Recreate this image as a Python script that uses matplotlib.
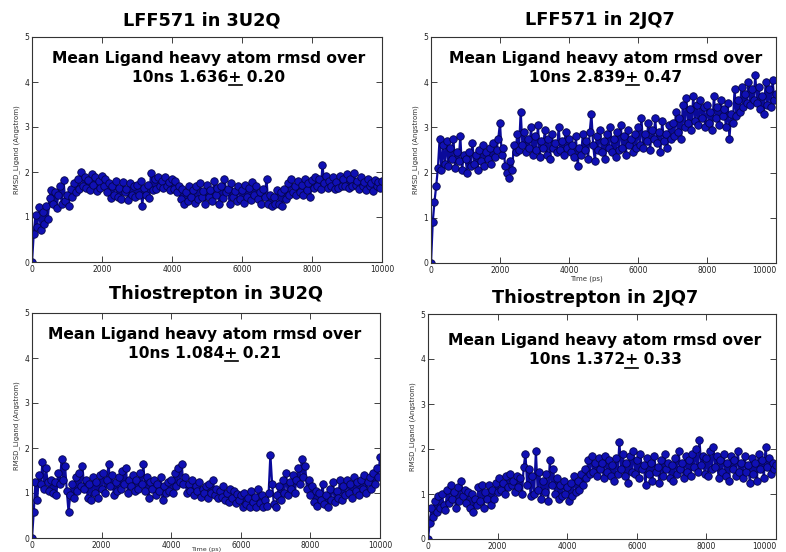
import numpy as np
import matplotlib
matplotlib.use("Agg")
import matplotlib.pyplot as plt
from matplotlib.lines import Line2D

plt.rcParams['font.family'] = ['DejaVu Sans']

time_ps = np.arange(0, 10001, 50)

rmsd_lff_3u2q = [
    0.00, 0.63, 1.05, 0.78, 1.22, 0.72, 1.12, 0.85, 1.25, 0.95, 1.42, 1.60, 1.28, 1.55, 1.20, 1.48, 1.68, 1.30, 1.82, 1.35,
    1.50, 1.25, 1.62, 1.45, 1.75, 1.55, 1.85, 1.62, 2.00, 1.70, 1.90, 1.65, 1.82, 1.60, 1.95, 1.72, 1.88, 1.58, 1.80, 1.65,
    1.92, 1.70, 1.85, 1.55, 1.75, 1.42, 1.70, 1.50, 1.80, 1.45, 1.65, 1.40, 1.78, 1.55, 1.62, 1.38, 1.75, 1.50, 1.68, 1.45,
    1.72, 1.48, 1.80, 1.25, 1.65, 1.50, 1.72, 1.42, 1.97, 1.60, 1.85, 1.62, 1.90, 1.70, 1.80, 1.65, 1.88, 1.70, 1.78, 1.60,
    1.85, 1.62, 1.80, 1.55, 1.70, 1.40, 1.62, 1.30, 1.55, 1.35, 1.70, 1.45, 1.60, 1.32, 1.68, 1.40, 1.75, 1.45, 1.58, 1.30,
    1.72, 1.45, 1.60, 1.35, 1.80, 1.50, 1.65, 1.30, 1.70, 1.42, 1.85, 1.55, 1.62, 1.28, 1.75, 1.45, 1.58, 1.35, 1.70, 1.40,
    1.60, 1.32, 1.72, 1.45, 1.65, 1.38, 1.78, 1.50, 1.68, 1.40, 1.55, 1.30, 1.62, 1.45, 1.85, 1.28, 1.50, 1.25, 1.45, 1.28,
    1.60, 1.30, 1.55, 1.25, 1.62, 1.40, 1.75, 1.50, 1.85, 1.55, 1.70, 1.48, 1.80, 1.55, 1.72, 1.50, 1.85, 1.60, 1.75, 1.45,
    1.82, 1.65, 1.90, 1.70, 1.85, 1.62, 2.15, 1.75, 1.92, 1.65, 1.80, 1.70, 1.88, 1.62, 1.78, 1.65, 1.92, 1.70, 1.85, 1.68,
    1.95, 1.65, 1.85, 1.70, 1.98, 1.72, 1.80, 1.62, 1.90, 1.68, 1.78, 1.60, 1.85, 1.70, 1.75, 1.58, 1.82, 1.68, 1.78, 1.65,
    1.80]

rmsd_lff_2jq7 = [
    0.00, 0.90, 1.35, 1.70, 2.10, 2.75, 2.05, 2.60, 2.20, 2.70, 2.15, 2.55, 2.30, 2.75, 2.10, 2.45, 2.25, 2.80, 2.05, 2.40,
    2.30, 2.00, 2.45, 2.15, 2.65, 2.20, 2.40, 2.05, 2.50, 2.25, 2.60, 2.15, 2.45, 2.30, 2.55, 2.20, 2.65, 2.35, 2.50, 2.75,
    3.10, 2.40, 2.55, 2.15, 2.00, 1.88, 2.25, 2.05, 2.60, 2.45, 2.85, 2.50, 3.35, 2.60, 2.90, 2.45, 2.75, 2.55, 3.00, 2.40,
    2.80, 2.50, 3.05, 2.35, 2.70, 2.55, 2.95, 2.40, 2.75, 2.30, 2.85, 2.55, 2.65, 2.45, 3.00, 2.50, 2.70, 2.40, 2.90, 2.55,
    2.75, 2.45, 2.60, 2.35, 2.80, 2.15, 2.55, 2.40, 2.85, 2.50, 2.70, 2.30, 2.90, 3.30, 2.60, 2.25, 2.80, 2.50, 2.95, 2.45,
    2.70, 2.30, 2.85, 2.55, 3.00, 2.45, 2.75, 2.35, 2.90, 2.50, 3.05, 2.55, 2.80, 2.40, 2.95, 2.60, 2.75, 2.45, 2.85, 2.55,
    3.00, 2.60, 3.20, 2.55, 2.85, 2.70, 3.10, 2.50, 2.95, 2.75, 3.20, 2.65, 2.90, 2.45, 3.15, 2.70, 2.85, 2.55, 3.05, 2.75,
    3.10, 2.80, 3.35, 2.90, 3.20, 2.75, 3.50, 3.00, 3.65, 3.10, 3.40, 2.95, 3.70, 3.15, 3.50, 3.05, 3.60, 3.20, 3.45, 3.00,
    3.50, 3.10, 3.35, 2.95, 3.70, 3.20, 3.45, 3.05, 3.60, 3.25, 3.40, 3.00, 3.55, 2.75, 3.30, 3.10, 3.85, 3.25, 3.60, 3.35,
    3.90, 3.45, 3.75, 3.55, 4.00, 3.50, 3.85, 3.60, 4.15, 3.55, 3.90, 3.40, 3.70, 3.30, 4.00, 3.50, 3.85, 3.45, 4.05, 3.60,
    3.75]

rmsd_thio_3u2q = [
    0.00, 0.58, 1.25, 0.85, 1.40, 1.20, 1.68, 1.10, 1.55, 1.25, 1.05, 1.30, 1.00, 1.25, 0.95, 1.45, 1.20, 1.75, 1.30, 1.60,
    1.05, 0.58, 0.95, 1.20, 0.90, 1.35, 1.05, 1.45, 1.15, 1.60, 1.10, 1.30, 0.90, 1.20, 0.85, 1.35, 1.00, 1.25, 0.90, 1.40,
    1.10, 1.45, 1.00, 1.30, 1.65, 1.15, 1.40, 0.95, 1.25, 1.05, 1.35, 1.10, 1.50, 1.20, 1.55, 1.00, 1.30, 1.15, 1.40, 1.05,
    1.30, 1.10, 1.45, 1.20, 1.65, 1.05, 1.35, 0.90, 1.25, 1.10, 1.30, 0.95, 1.20, 1.05, 1.35, 0.85, 1.15, 1.00, 1.25, 1.05,
    1.30, 1.00, 1.45, 1.15, 1.55, 1.25, 1.65, 1.20, 1.35, 1.00, 1.20, 1.05, 1.30, 0.95, 1.15, 1.05, 1.25, 0.92, 1.10, 1.00,
    1.15, 0.90, 1.20, 1.00, 1.30, 0.95, 1.10, 0.88, 1.05, 0.92, 1.15, 0.85, 1.00, 0.80, 1.10, 0.90, 1.05, 0.78, 0.98, 0.85,
    0.95, 0.70, 1.00, 0.75, 0.90, 0.68, 1.05, 0.80, 0.92, 0.70, 1.10, 0.78, 0.95, 0.68, 0.85, 0.72, 1.00, 1.85, 1.20, 0.75,
    0.68, 0.95, 1.15, 0.85, 1.30, 1.00, 1.45, 0.95, 1.25, 1.10, 1.40, 1.00, 1.30, 1.55, 1.20, 1.75, 1.35, 1.60, 1.10, 1.30,
    0.95, 1.15, 0.80, 1.05, 0.72, 1.00, 0.85, 1.20, 0.75, 0.95, 0.70, 1.10, 0.85, 1.25, 0.80, 1.05, 0.90, 1.30, 0.85, 1.15,
    0.95, 1.30, 1.00, 1.20, 0.90, 1.35, 1.05, 1.25, 0.95, 1.30, 1.10, 1.40, 1.00, 1.25, 1.35, 1.10, 1.45, 1.20, 1.55, 1.35,
    1.80]

rmsd_thio_2jq7 = [
    0.00, 0.35, 0.70, 0.50, 0.85, 0.60, 0.95, 0.70, 1.00, 0.75, 0.65, 1.10, 0.80, 1.20, 0.90, 1.05, 0.70, 1.15, 0.85, 1.30,
    0.95, 1.10, 0.80, 1.05, 0.70, 1.00, 0.60, 0.90, 0.75, 1.15, 0.85, 1.20, 0.70, 1.05, 0.90, 1.20, 0.75, 1.10, 0.90, 1.25,
    1.05, 1.35, 1.10, 1.25, 1.00, 1.40, 1.15, 1.45, 1.20, 1.30, 1.05, 1.40, 1.15, 1.35, 1.00, 1.60, 1.90, 1.20, 1.55, 0.95,
    1.40, 1.00, 1.95, 1.10, 1.50, 0.90, 1.30, 1.05, 1.45, 0.85, 1.75, 1.20, 1.55, 1.00, 1.35, 0.90, 1.20, 0.95, 1.30, 1.00,
    1.15, 0.85, 1.25, 0.95, 1.40, 1.05, 1.30, 1.10, 1.45, 1.20, 1.55, 1.35, 1.75, 1.45, 1.85, 1.50, 1.70, 1.40, 1.80, 1.55,
    1.70, 1.35, 1.85, 1.50, 1.75, 1.40, 1.65, 1.30, 1.80, 1.45, 2.15, 1.55, 1.90, 1.40, 1.70, 1.25, 1.85, 1.50, 1.95, 1.45,
    1.75, 1.35, 1.90, 1.55, 1.65, 1.20, 1.80, 1.45, 1.70, 1.30, 1.85, 1.50, 1.60, 1.25, 1.75, 1.40, 1.90, 1.55, 1.70, 1.35,
    1.65, 1.30, 1.80, 1.45, 1.95, 1.55, 1.70, 1.35, 1.85, 1.50, 1.75, 1.40, 1.90, 1.60, 2.00, 1.50, 2.20, 1.65, 1.85, 1.45,
    1.80, 1.40, 1.95, 1.55, 2.05, 1.60, 1.85, 1.35, 1.75, 1.50, 1.90, 1.40, 1.70, 1.30, 1.85, 1.55, 1.75, 1.40, 1.95, 1.50,
    1.70, 1.35, 1.85, 1.50, 1.65, 1.25, 1.80, 1.45, 1.70, 1.30, 1.90, 1.55, 1.75, 1.35, 2.05, 1.60, 1.80, 1.45, 1.70, 1.55,
    1.65]

titles = ['LFF571 in 3U2Q', 'LFF571 in 2JQ7', 'Thiostrepton in 3U2Q', 'Thiostrepton in 2JQ7']
means = ['1.636', '2.839', '1.084', '1.372']
sds = ['0.20', '0.47', '0.21', '0.33']
series = [rmsd_lff_3u2q, rmsd_lff_2jq7, rmsd_thio_3u2q, rmsd_thio_2jq7]
xticks = [0, 2000, 4000, 6000, 8000, 10000]
yticks = [0, 1, 2, 3, 4, 5]

W, H = 786, 552
fig = plt.figure(figsize=(W / 100, H / 100), dpi=100)

# axes boxes in pixels: left, top, right, bottom
boxes = [(32, 37, 382, 262), (431, 37, 776, 263), (32, 313, 380, 538), (428, 314, 776, 539)]
# title centre / annotation centre (pixels)
title_pos = [(202, 20), (600, 20), (216, 294), (595, 298)]
note_pos = [(209, 58, 77), (606, 58, 77), (205, 334, 353), (605, 340, 360)]

TITLE_FS = 12.8
NOTE_FS = 11.2


def fx(px):
    return px / W


def fy(py):
    return 1 - py / H


renderer = fig.canvas.get_renderer()


def text_width(s, fs):
    tt = fig.text(0, 0, s, fontsize=fs, fontweight='bold')
    w = tt.get_window_extent(renderer).width
    tt.remove()
    return w


for i, (l, t, r, b) in enumerate(boxes):
    ax = fig.add_axes([fx(l), fy(b), (r - l) / W, (b - t) / H])
    ax.plot(time_ps, series[i], '-o', color='#0a0a9a', lw=1.6,
            ms=5.4, mfc='#1010b4', mec='#05054a', mew=0.6)
    ax.set_xlim(0, 10000)
    ax.set_ylim(0, 5)
    ax.set_xticks(xticks)
    ax.set_yticks(yticks)
    ax.tick_params(direction='in', length=4, width=0.6, top=True, right=True,
                   labelsize=5.5, pad=2, colors='#222222')
    if i % 2 == 1:
        # right-hand panels sit at the picture edge: keep the last label inside
        ax.get_xticklabels()[-1].set_horizontalalignment('right')
    for s in ax.spines.values():
        s.set_linewidth(0.8)
        s.set_color('#333333')
    ax.set_ylabel('RMSD_Ligand (Angstrom)', fontsize=5, labelpad=3, color='#333333')

    tx, ty = title_pos[i]
    fig.text(fx(tx), fy(ty), titles[i], ha='center', va='center',
             fontsize=TITLE_FS, fontweight='bold')
    nx, ny1, ny2 = note_pos[i]
    fig.text(fx(nx), fy(ny1), 'Mean Ligand heavy atom rmsd over', ha='center',
             va='center', fontsize=NOTE_FS, fontweight='bold')
    line2 = f'10ns {means[i]}+ {sds[i]}'
    fig.text(fx(nx), fy(ny2), line2, ha='center', va='center',
             fontsize=NOTE_FS, fontweight='bold')

    # underline the "+" sign
    wall = text_width(line2, NOTE_FS)
    wpre = text_width(f'10ns {means[i]}+', NOTE_FS)
    wplus = text_width('+', NOTE_FS)
    x0 = nx - wall / 2 + wpre - wplus
    fig.add_artist(Line2D([fx(x0), fx(x0 + wplus)], [fy(ny2 + 7.5), fy(ny2 + 7.5)],
                          transform=fig.transFigure, color='black', lw=1.2))

fig.text(fx(586), fy(279), 'Time (ps)', ha='center', va='center', fontsize=5, color='#333333')
fig.text(fx(206), fy(551.5), 'Time (ps)', ha='center', va='bottom', fontsize=4.6, color='#333333')

fig.savefig('out.png', dpi=100)
